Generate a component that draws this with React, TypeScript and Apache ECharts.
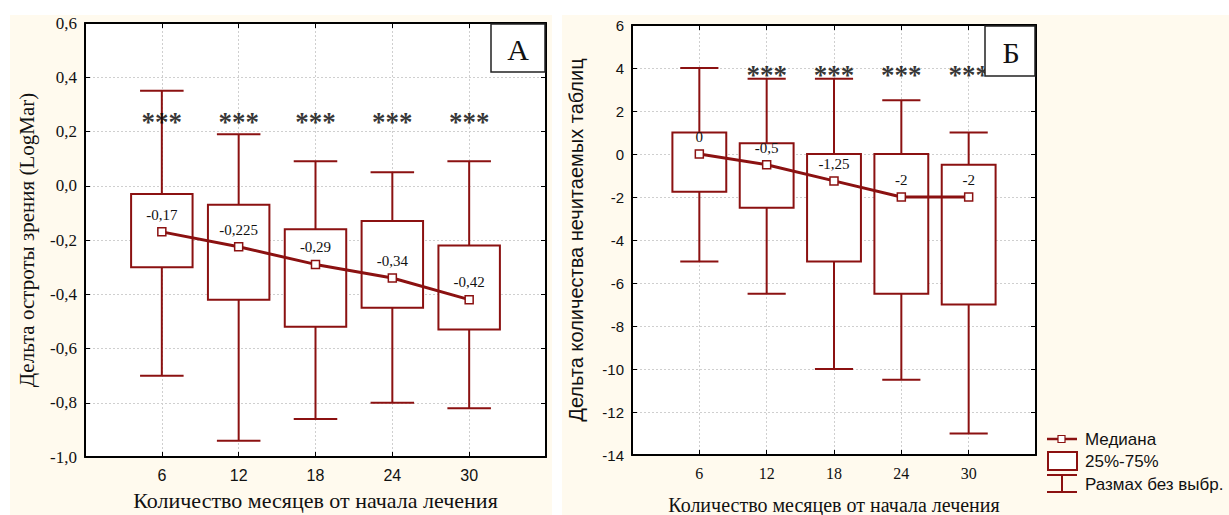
import React, { useEffect, useRef } from "react";
import * as echarts from "echarts";

// ---------- data ----------
const months = [6, 12, 18, 24, 30];

// Panel A: delta of visual acuity (LogMar)
const acuityMin = [-0.7, -0.94, -0.86, -0.8, -0.82];
const acuityQ1 = [-0.3, -0.42, -0.52, -0.45, -0.53];
const acuityMedian = [-0.17, -0.225, -0.29, -0.34, -0.42];
const acuityQ3 = [-0.03, -0.07, -0.16, -0.13, -0.22];
const acuityMax = [0.35, 0.19, 0.09, 0.05, 0.09];
const acuityStarMonths = [6, 12, 18, 24, 30];
const acuityStarLevel = [0.26, 0.26, 0.26, 0.26, 0.26];

// Panel Б: delta of unreadable tables
const tablesMin = [-5, -6.5, -10, -10.5, -13];
const tablesQ1 = [-1.75, -2.5, -5, -6.5, -7];
const tablesMedian = [0, -0.5, -1.25, -2, -2];
const tablesQ3 = [1, 0.5, 0, 0, -0.5];
const tablesMax = [4, 3.5, 3.5, 2.5, 1];
const tablesStarMonths = [12, 18, 24, 30];
const tablesStarLevel = [4, 4, 4, 4];

const xTitle = "Количество месяцев от начала лечения";
const yTitleA = "Дельта остроты зрения (LogMar)";
const yTitleB = "Дельта количества нечитаемых таблиц";
const legendLabels = ["Медиана", "25%-75%", "Размах без выбр."];

// ---------- styling ----------
const RED = "#8B1111";
const SERIF = "'Liberation Serif', 'Times New Roman', serif";
const SANS = "'Liberation Sans', Arial, sans-serif";
const BOX_HALF = 2.4; // in x units (months)
const CAP_HALF = 1.7;

const comma = (v: number) => String(v).replace(".", ",");

function boxRender(params: any, api: any) {
  const x = api.value(0);
  const lo = api.coord([x, api.value(1)]);
  const q1 = api.coord([x, api.value(2)]);
  const q3 = api.coord([x, api.value(3)]);
  const hi = api.coord([x, api.value(4)]);
  const hb = api.size([BOX_HALF, 0])[0];
  const hc = api.size([CAP_HALF, 0])[0];
  const ls = { stroke: RED, lineWidth: 2 };
  return {
    type: "group",
    children: [
      { type: "line", shape: { x1: hi[0], y1: hi[1], x2: q3[0], y2: q3[1] }, style: ls },
      { type: "line", shape: { x1: q1[0], y1: q1[1], x2: lo[0], y2: lo[1] }, style: ls },
      { type: "line", shape: { x1: hi[0] - hc, y1: hi[1], x2: hi[0] + hc, y2: hi[1] }, style: ls },
      { type: "line", shape: { x1: lo[0] - hc, y1: lo[1], x2: lo[0] + hc, y2: lo[1] }, style: ls },
      {
        type: "rect",
        shape: { x: q3[0] - hb, y: q3[1], width: hb * 2, height: q1[1] - q3[1] },
        style: { fill: "#fff", stroke: RED, lineWidth: 2 },
      },
    ],
  };
}

const GRIDLINE = { show: true, lineStyle: { color: "#cfcfcf", type: [2, 2], width: 1 } };

function xAxes(grid: number, labelFont: string, titleSize: number, nameGap: number) {
  const common = {
    gridIndex: grid,
    type: "value",
    min: 0,
    max: 36,
    interval: 6,
    axisLine: { show: true, onZero: false, lineStyle: { color: "#000", width: 2 } },
    axisTick: { show: true, inside: true, length: 5, lineStyle: { color: "#000" } },
  };
  return [
    {
      ...common,
      position: "bottom",
      name: xTitle,
      nameLocation: "middle",
      nameGap,
      nameTextStyle: { fontFamily: SERIF, fontSize: titleSize, color: "#111" },
      axisLabel: {
        fontFamily: labelFont,
        fontSize: 16,
        color: "#111",
        margin: 10,
        formatter: (v: number) => (v === 0 || v === 36 ? "" : String(v)),
      },
      splitLine: GRIDLINE,
    },
    {
      ...common,
      position: "top",
      axisLabel: { show: false },
      splitLine: { show: false },
    },
  ];
}

function yAxes(
  grid: number,
  min: number,
  max: number,
  interval: number,
  title: string,
  titleFont: string,
  titleSize: number,
  labelFont: string,
  labelSize: number,
  fmt: (v: number) => string,
  nameGap: number
) {
  const common = {
    gridIndex: grid,
    type: "value",
    min,
    max,
    interval,
    axisLine: { show: true, onZero: false, lineStyle: { color: "#000", width: 2 } },
    axisTick: { show: true, inside: true, length: 5, lineStyle: { color: "#000" } },
  };
  return [
    {
      ...common,
      position: "left",
      name: title,
      nameLocation: "middle",
      nameGap,
      nameTextStyle: { fontFamily: titleFont, fontSize: titleSize, color: "#111" },
      axisLabel: { fontFamily: labelFont, fontSize: labelSize, color: "#111", margin: 8, formatter: fmt },
      splitLine: GRIDLINE,
    },
    {
      ...common,
      position: "right",
      axisLabel: { show: false },
      splitLine: { show: false },
    },
  ];
}

function panelSeries(
  xIdx: number,
  yIdx: number,
  mins: number[],
  q1s: number[],
  meds: number[],
  q3s: number[],
  maxs: number[],
  starX: number[],
  starY: number[]
) {
  return [
    {
      type: "custom",
      xAxisIndex: xIdx,
      yAxisIndex: yIdx,
      renderItem: boxRender,
      encode: { x: 0, y: [1, 2, 3, 4] },
      data: months.map((m, i) => [m, mins[i], q1s[i], q3s[i], maxs[i]]),
      z: 3,
      silent: true,
    },
    {
      type: "line",
      xAxisIndex: xIdx,
      yAxisIndex: yIdx,
      data: months.map((m, i) => [m, meds[i]]),
      symbol: "rect",
      symbolSize: 8,
      showAllSymbol: true,
      lineStyle: { color: RED, width: 3 },
      itemStyle: { color: "#fff", borderColor: RED, borderWidth: 1.5 },
      label: {
        show: true,
        position: "top",
        distance: 5,
        fontFamily: SERIF,
        fontSize: 15,
        color: "#111",
        formatter: (p: any) => comma(p.value[1]),
      },
      z: 5,
      silent: true,
    },
    {
      type: "scatter",
      xAxisIndex: xIdx,
      yAxisIndex: yIdx,
      data: starX.map((m, i) => [m, starY[i]]),
      symbolSize: 1,
      itemStyle: { color: "rgba(0,0,0,0)" },
      label: {
        show: true,
        position: "inside",
        formatter: "***",
        fontFamily: SERIF,
        fontWeight: "bold",
        fontSize: 27,
        color: "#000",
        offset: [0, 7],
      },
      z: 6,
      silent: true,
    },
  ];
}

export default function App() {
  const ref = useRef<HTMLDivElement>(null);
  useEffect(() => {
    if (!ref.current) return;
    const chart = echarts.init(ref.current, undefined, { renderer: "svg" });
    const legendX = 1047;
    const option: any = {
      animation: false,
      backgroundColor: "#ffffff",
      grid: [
        { left: 85, top: 23, width: 461, height: 434, show: true, backgroundColor: "#fff", borderWidth: 0, outerBoundsMode: "none", containLabel: false },
        { left: 632, top: 25, width: 404, height: 430, show: true, backgroundColor: "#fff", borderWidth: 0, outerBoundsMode: "none", containLabel: false },
      ],
      xAxis: [...xAxes(0, SANS, 22, 32), ...xAxes(1, SERIF, 20, 40)],
      yAxis: [
        ...yAxes(0, -1.0, 0.6, 0.2, yTitleA, SERIF, 21, SERIF, 17, (v: number) => v.toFixed(1).replace(".", ","), 48),
        ...yAxes(1, -14, 6, 2, yTitleB, SANS, 20, SANS, 15, (v: number) => String(Math.round(v)), 46),
      ],
      series: [
        ...panelSeries(0, 0, acuityMin, acuityQ1, acuityMedian, acuityQ3, acuityMax, acuityStarMonths, acuityStarLevel),
        ...panelSeries(2, 2, tablesMin, tablesQ1, tablesMedian, tablesQ3, tablesMax, tablesStarMonths, tablesStarLevel),
      ],
      graphic: [
        { type: "rect", z: -10, silent: true, shape: { x: 10, y: 15, width: 542, height: 500 }, style: { fill: "#FFFAEE" } },
        { type: "rect", z: -10, silent: true, shape: { x: 562, y: 15, width: 667, height: 500 }, style: { fill: "#FFFAEE" } },
        // panel letters
        { type: "rect", z: 20, shape: { x: 491, y: 24, width: 54, height: 48 }, style: { fill: "#fff", stroke: "#222", lineWidth: 1.5 } },
        { type: "text", z: 21, x: 518, y: 49, style: { text: "А", font: `30px ${SERIF}`, fill: "#111", align: "center", verticalAlign: "middle" } },
        { type: "rect", z: 20, shape: { x: 985, y: 26, width: 50, height: 50 }, style: { fill: "#fff", stroke: "#222", lineWidth: 1.5 } },
        { type: "text", z: 21, x: 1011, y: 52, style: { text: "Б", font: `30px ${SERIF}`, fill: "#111", align: "center", verticalAlign: "middle" } },
        // legend
        { type: "line", z: 20, shape: { x1: legendX, y1: 439, x2: legendX + 30, y2: 439 }, style: { stroke: RED, lineWidth: 2.5 } },
        { type: "rect", z: 21, shape: { x: legendX + 11, y: 435.5, width: 7, height: 7 }, style: { fill: "#fff", stroke: RED, lineWidth: 1.2 } },
        { type: "text", z: 21, x: legendX + 38, y: 439, style: { text: legendLabels[0], font: `17px ${SANS}`, fill: "#111", verticalAlign: "middle" } },
        { type: "rect", z: 20, shape: { x: legendX + 1, y: 452, width: 29, height: 18 }, style: { fill: "#fff", stroke: RED, lineWidth: 2 } },
        { type: "text", z: 21, x: legendX + 38, y: 461, style: { text: legendLabels[1], font: `17px ${SANS}`, fill: "#111", verticalAlign: "middle" } },
        { type: "line", z: 20, shape: { x1: legendX, y1: 475, x2: legendX + 30, y2: 475 }, style: { stroke: RED, lineWidth: 2 } },
        { type: "line", z: 20, shape: { x1: legendX + 15, y1: 475, x2: legendX + 15, y2: 492 }, style: { stroke: RED, lineWidth: 2 } },
        { type: "line", z: 20, shape: { x1: legendX, y1: 492, x2: legendX + 30, y2: 492 }, style: { stroke: RED, lineWidth: 2 } },
        { type: "text", z: 21, x: legendX + 38, y: 484, style: { text: legendLabels[2], font: `17px ${SANS}`, fill: "#111", verticalAlign: "middle" } },
      ],
    };
    chart.setOption(option);
    return () => chart.dispose();
  }, []);
  return (
    <div
      ref={ref}
      style={{ position: "absolute", left: 0, top: 0, width: 1229, height: 515 }}
    />
  );
}
